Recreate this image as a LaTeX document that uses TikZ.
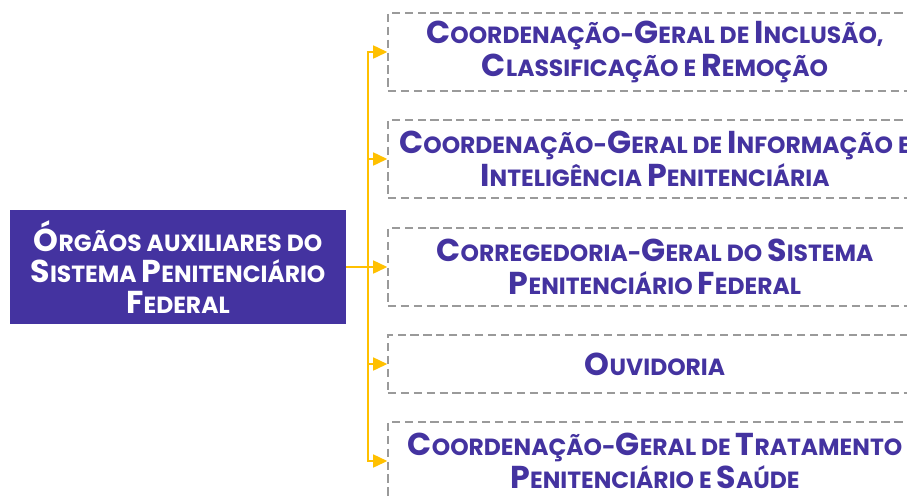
\documentclass[tikz,border=0pt]{standalone}
\usepackage{fontspec}
\setmainfont{Poppins}
\usetikzlibrary{arrows.meta}
\definecolor{roxo}{HTML}{4433A0}
\definecolor{amarelo}{HTML}{FFC000}
\definecolor{cinza}{HTML}{9A9A9A}
\newcommand{\Cap}[1]{{\fontsize{27}{28}\selectfont #1}}

\begin{document}
\begin{tikzpicture}[x=0.03cm,y=-0.03cm,
		orgao/.style={draw=cinza,line width=1.2pt,dash pattern=on 7pt off 4pt,minimum width=16.02cm,minimum height=2.34cm,align=center,text=roxo,font=\bfseries\fontsize{20}{28}\selectfont},
		ligacao/.style={draw=amarelo,line width=1.6pt,-{Triangle[length=12pt,width=11pt]}}]
						\useasboundingbox (0,0) rectangle (907,495);
						\clip (0,0) rectangle (907,495);
						\node[fill=roxo,minimum width=10.08cm,minimum height=3.42cm,align=center,text=white,font=\bfseries\fontsize{20}{26.5}\selectfont] (central) at (178,267) {\Cap{Ó}RGÃOS AUXILIARES DO\\\Cap{S}ISTEMA \Cap{P}ENITENCIÁRIO\\\Cap{F}EDERAL};
						\node[orgao] (inclusao) at (655,52) {\Cap{C}OORDENAÇÃO-\Cap{G}ERAL DE \Cap{I}NCLUSÃO,\\\Cap{C}LASSIFICAÇÃO E \Cap{R}EMOÇÃO};
						\node[orgao] (informacao) at (655,159) {\Cap{C}OORDENAÇÃO-\Cap{G}ERAL DE \Cap{I}NFORMAÇÃO E\\\Cap{I}NTELIGÊNCIA \Cap{P}ENITENCIÁRIA};
						\node[orgao] (corregedoria) at (655,267) {\Cap{C}ORREGEDORIA-\Cap{G}ERAL DO \Cap{S}ISTEMA\\\Cap{P}ENITENCIÁRIO \Cap{F}EDERAL};
						\node[orgao,minimum height=1.74cm] (ouvidoria) at (655,364) {\Cap{O}UVIDORIA};
						\node[orgao] (saude) at (655,461) {\Cap{C}OORDENAÇÃO-\Cap{G}ERAL DE \Cap{T}RATAMENTO\\\Cap{P}ENITENCIÁRIO E \Cap{S}AÚDE};
						\coordinate (hub) at (368,267);
						\draw[amarelo,line width=1.6pt] (central.east)--(hub);
						\draw[ligacao] (hub) |- (inclusao.west);
						\draw[ligacao] (hub) |- (informacao.west);
						\draw[ligacao] (hub) -- (corregedoria.west);
						\draw[ligacao] (hub) |- (ouvidoria.west);
						\draw[ligacao] (hub) |- (saude.west);
					\end{tikzpicture}
\end{document}
